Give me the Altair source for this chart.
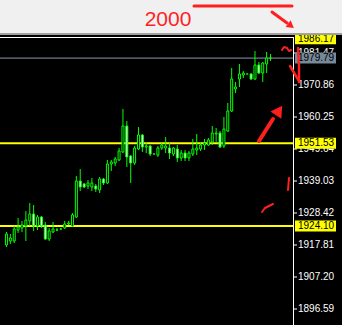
import altair as alt
import pandas as pd

# ---- candles (one bar per slot, oldest first) ----
opens = [1917.81, 1919.13, 1919.13, 1922.78, 1923.44, 1924.11, 1925.77, 1928.09, 1924.11, 1927.09,
         1924.44, 1919.80, 1922.12, 1922.78, 1923.11, 1923.44, 1924.77, 1924.11, 1927.09, 1939.03,
         1938.04, 1937.37, 1937.04, 1937.37, 1936.05, 1939.69, 1938.37, 1944.67, 1945.00, 1945.99,
         1948.65, 1957.27, 1947.32, 1945.00, 1949.64, 1954.28, 1950.30, 1950.64, 1947.98, 1947.65,
         1949.97, 1949.97, 1949.97, 1947.98, 1949.64, 1946.66, 1948.31, 1946.66, 1947.98, 1949.31,
         1949.64, 1950.97, 1950.97, 1951.96, 1954.62, 1954.95, 1950.64, 1955.61, 1962.24, 1969.54,
         1972.85, 1974.18, 1974.51, 1974.51, 1972.85, 1977.50, 1974.84, 1977.83, 1979.79]
highs = [1922.12, 1921.46, 1924.11, 1926.76, 1925.77, 1929.08, 1931.73, 1931.07, 1927.76, 1927.42,
         1925.43, 1923.44, 1925.43, 1923.44, 1923.44, 1925.77, 1925.77, 1928.42, 1940.69, 1943.01,
         1938.37, 1939.36, 1940.02, 1938.04, 1940.36, 1940.02, 1945.99, 1945.99, 1946.99, 1949.97,
         1962.91, 1958.93, 1947.65, 1950.64, 1956.94, 1954.62, 1951.96, 1950.97, 1947.98, 1950.64,
         1951.63, 1953.62, 1951.63, 1950.30, 1950.97, 1949.31, 1949.31, 1948.98, 1952.96, 1954.62,
         1951.96, 1952.96, 1953.29, 1957.27, 1956.60, 1955.61, 1960.25, 1964.89, 1976.50, 1971.86,
         1977.83, 1975.51, 1974.51, 1974.84, 1982.14, 1978.49, 1978.49, 1981.81, 1981.14]
lows = [1917.14, 1918.14, 1918.47, 1921.79, 1922.12, 1919.13, 1924.11, 1922.45, 1922.78, 1923.44,
        1919.47, 1919.13, 1921.79, 1922.45, 1922.78, 1923.11, 1924.44, 1923.78, 1926.76, 1935.71,
        1936.71, 1936.38, 1935.71, 1935.38, 1935.05, 1937.70, 1938.04, 1942.35, 1944.00, 1945.66,
        1948.31, 1943.67, 1938.37, 1944.34, 1949.31, 1948.65, 1948.31, 1947.32, 1947.98, 1946.99,
        1949.31, 1948.31, 1946.33, 1947.32, 1945.33, 1945.66, 1945.66, 1945.66, 1947.32, 1947.65,
        1948.98, 1949.31, 1950.64, 1950.97, 1951.63, 1949.97, 1949.97, 1955.28, 1961.91, 1968.21,
        1970.20, 1973.18, 1974.51, 1972.52, 1972.52, 1974.51, 1971.86, 1974.84, 1978.82]
closes = [1921.46, 1920.13, 1923.11, 1923.78, 1924.44, 1926.10, 1928.09, 1924.11, 1927.09, 1924.11,
          1919.80, 1922.45, 1923.11, 1922.78, 1923.11, 1924.77, 1925.10, 1927.76, 1939.03, 1937.04,
          1937.04, 1938.37, 1938.37, 1936.38, 1939.69, 1938.37, 1944.67, 1945.33, 1946.33, 1948.98,
          1957.27, 1946.99, 1945.00, 1949.97, 1954.28, 1950.30, 1950.64, 1947.98, 1947.98, 1949.97,
          1950.97, 1950.64, 1948.31, 1949.97, 1946.66, 1948.31, 1946.66, 1948.31, 1949.64, 1949.97,
          1950.97, 1951.63, 1952.63, 1954.95, 1954.95, 1950.30, 1956.27, 1962.24, 1972.85, 1970.20,
          1974.51, 1974.84, 1974.51, 1972.85, 1977.50, 1974.84, 1978.16, 1979.82, 1979.79]

# ---- price scale and horizontal levels ----
scale_ticks = [1896.59, 1907.20, 1917.81, 1928.42, 1939.03, 1949.64, 1960.25, 1970.86, 1981.47]
level_prices = [1951.53, 1924.10]
tag_prices = [1986.17, 1951.53, 1924.10]
bid_price = 1979.79
price_window = [1891.28, 1999.05]

# ---- hand-drawn markup (canvas pixels) ----
stroke_id = ["top", "top", "tip", "tip", "up", "up", "up",
             "wave", "wave", "wave", "wave", "wave",
             "vee", "vee", "vee", "barb", "barb",
             "curl", "curl", "curl", "curl", "tick", "tick"]
stroke_px = [194, 292, 272, 287, 259, 266, 273,
             282, 284, 287, 289, 291,
             298, 299, 299, 290, 299,
             262, 265, 269, 273, 289, 288]
stroke_py = [6, 6, 12, 23, 141, 130, 119,
             50, 47, 48, 51, 50,
             48, 66, 82, 66, 81,
             212, 208, 206, 204, 178, 190]
stroke_w = [3, 3, 3, 3, 4, 4, 4,
            2, 2, 2, 2, 2,
            2.5, 2.5, 2.5, 2.5, 2.5,
            2, 2, 2, 2, 2, 2]
head_px = [290, 278]
head_py = [25, 112]
head_angle = [127, 34]
head_size = [70, 170]

GREEN = "#00ff00"
RED = "#ff1f1f"
FONT = "Liberation Sans"

n = len(opens)
candles = pd.DataFrame({
    "slot": list(range(n)),
    "open": opens, "high": highs, "low": lows, "close": closes,
})
candles["side"] = ["down" if c < o else "up" for o, c in zip(opens, closes)]

x_enc = alt.X("slot:Q", scale=alt.Scale(domain=[-0.375, 85.125], nice=False, zero=False), axis=None)
y_scale = alt.Scale(domain=price_window, nice=False, zero=False)


def py(field):
    return alt.Y(field, scale=y_scale, axis=None)


base = alt.Chart(candles)

wicks = base.mark_rule(color=GREEN, strokeWidth=1).encode(
    x=x_enc, y=py("low:Q"), y2="high:Q")

bodies = base.mark_bar(size=2, stroke=GREEN, strokeWidth=1).encode(
    x=x_enc,
    y=py("open:Q"),
    y2="close:Q",
    fill=alt.condition(alt.datum.side == "down", alt.value("#ffffff"), alt.value("#000000")),
)

one_row = alt.Data(values=[{"k": 0}])

band = alt.Chart(one_row).mark_rect(color="#f0f0f0").encode(
    x=alt.value(0), x2=alt.value(342), y=alt.value(0), y2=alt.value(33))
band_edge = alt.Chart(one_row).mark_rect(color="#a0a0a0").encode(
    x=alt.value(0), x2=alt.value(342), y=alt.value(33), y2=alt.value(35))
frame_top = alt.Chart(one_row).mark_rule(color="#ffffff", strokeWidth=1).encode(
    x=alt.value(0), x2=alt.value(293), y=alt.value(37.5))
frame_right = alt.Chart(one_row).mark_rule(color="#ffffff", strokeWidth=1).encode(
    x=alt.value(293.5), y=alt.value(37), y2=alt.value(325))

# right-hand price scale: tick marks and labels
ticks_df = pd.DataFrame({"price": scale_ticks})
scale_marks = alt.Chart(ticks_df).mark_rule(color="#ffffff", strokeWidth=1).encode(
    y=py("price:Q"), x=alt.value(294), x2=alt.value(297))
scale_labels = alt.Chart(ticks_df).mark_text(align="left", baseline="middle", font=FONT,
                                             fontSize=10, color="#ffffff").encode(
    y=py("price:Q"), x=alt.value(298), text=alt.Text("price:Q", format=".2f"))

levels_df = pd.DataFrame({"price": level_prices})
levels = alt.Chart(levels_df).mark_rule(color="#ffff00", strokeWidth=2).encode(
    y=py("price:Q"), x=alt.value(0), x2=alt.value(293))

bid_df = pd.DataFrame({"price": [bid_price]})
bid_line = alt.Chart(bid_df).mark_rule(color="#8899aa", strokeWidth=1).encode(
    y=py("price:Q"), x=alt.value(0), x2=alt.value(293))
bid_box = alt.Chart(bid_df).mark_rule(color="#778899", strokeWidth=11, strokeCap="butt").encode(
    y=py("price:Q"), x=alt.value(295), x2=alt.value(336))
bid_text = alt.Chart(bid_df).mark_text(align="left", baseline="middle", font=FONT, fontSize=10,
                                       color="#000000").encode(
    y=py("price:Q"), x=alt.value(298), text=alt.Text("price:Q", format=".2f"))

tags_df = pd.DataFrame({"price": tag_prices})
tag_box = alt.Chart(tags_df).mark_rule(color="#ffff00", strokeWidth=11, strokeCap="butt").encode(
    y=py("price:Q"), x=alt.value(295), x2=alt.value(336))
tag_text = alt.Chart(tags_df).mark_text(align="left", baseline="middle", font=FONT, fontSize=10,
                                        color="#000000").encode(
    y=py("price:Q"), x=alt.value(298), text=alt.Text("price:Q", format=".2f"))

price_panel = alt.layer(frame_top, frame_right, scale_marks, scale_labels, levels, bid_line,
                        wicks, bodies, bid_box, bid_text, tag_box, tag_text, band, band_edge)

# ---- markup layer in canvas pixel space ----
sx = alt.Scale(domain=[0, 342], nice=False, zero=False)
sy = alt.Scale(domain=[325, 0], nice=False, zero=False)

strokes = pd.DataFrame({"id": stroke_id, "px": stroke_px, "py": stroke_py, "w": stroke_w})
strokes["seq"] = range(len(strokes))
ink = alt.Chart(strokes).mark_line(color=RED, strokeCap="round", strokeJoin="round").encode(
    x=alt.X("px:Q", scale=sx, axis=None),
    y=alt.Y("py:Q", scale=sy, axis=None),
    detail="id:N",
    order="seq:Q",
    strokeWidth=alt.StrokeWidth("w:Q", scale=None, legend=None),
)

heads_df = pd.DataFrame({"px": head_px, "py": head_py, "ang": head_angle, "sz": head_size})
heads = alt.Chart(heads_df).mark_point(shape="triangle", filled=True, color=RED, opacity=1).encode(
    x=alt.X("px:Q", scale=sx, axis=None),
    y=alt.Y("py:Q", scale=sy, axis=None),
    angle=alt.Angle("ang:Q", scale=None),
    size=alt.Size("sz:Q", scale=None, legend=None),
)

target_df = pd.DataFrame({"px": [168], "py": [20], "txt": ["2000"]})
target = alt.Chart(target_df).mark_text(font=FONT, fontSize=21, color=RED, baseline="middle",
                                        align="center").encode(
    x=alt.X("px:Q", scale=sx, axis=None),
    y=alt.Y("py:Q", scale=sy, axis=None),
    text="txt:N",
)

markup = alt.layer(ink, heads, target)

chart = alt.layer(price_panel, markup).resolve_scale(
    x="independent", y="independent"
).properties(
    width=342, height=325, padding=0, autosize="none"
).configure(background="#000000").configure_view(stroke=None)

chart.save("out.html", embed_options={"renderer": "svg", "actions": False})
